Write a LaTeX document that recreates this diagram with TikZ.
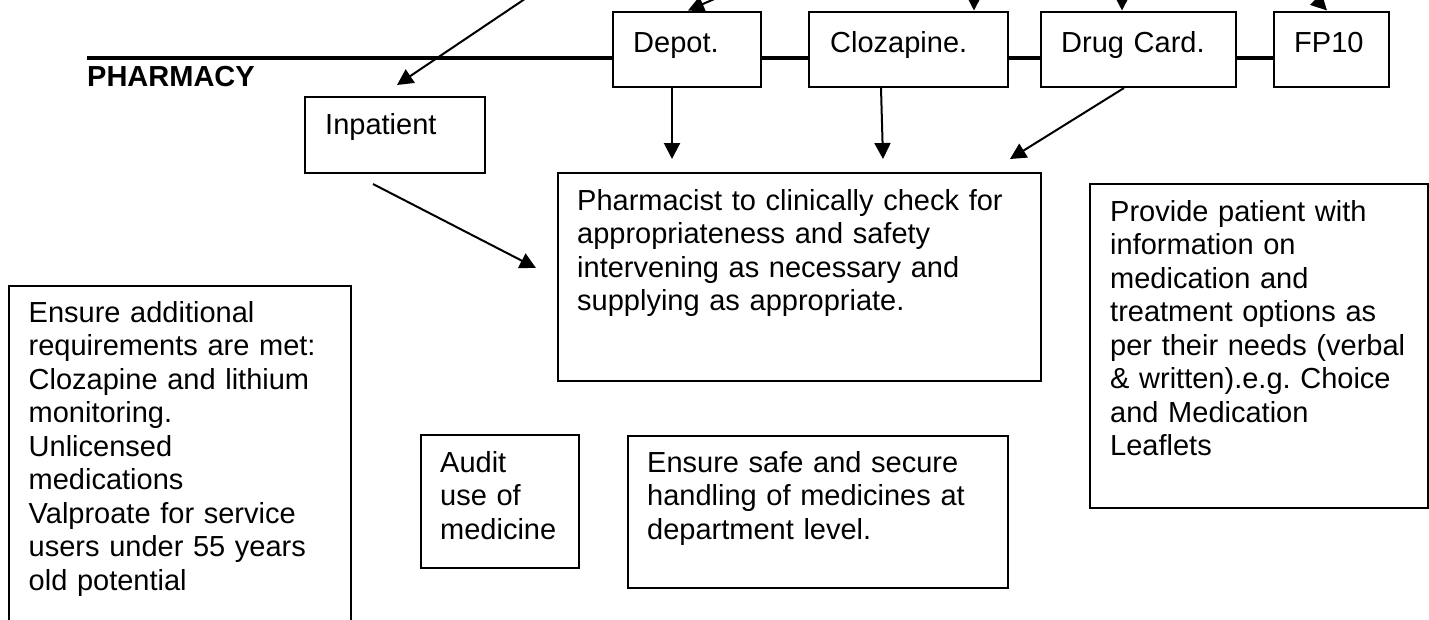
\documentclass[tikz,border=0pt]{standalone}
\usepackage{fontspec}
\setmainfont{Liberation Sans}
\usetikzlibrary{arrows.meta,calc}

\begin{document}
\frenchspacing
\begin{tikzpicture}[x=1pt,y=-1pt,
  box/.style={draw,line width=2pt,inner sep=0pt,anchor=north west},
  txt/.style={inner sep=0pt,anchor=base west,text width=520pt,align=left,
              font=\fontsize{29}{33.5}\selectfont},
  head/.style={inner sep=0pt,anchor=base west,font=\fontsize{29}{33.5}\selectfont\bfseries},
  arr/.style={line width=2pt,-{Triangle[length=16pt,width=16pt]}},
  rule/.style={line width=3.5pt}]

\useasboundingbox (0,0) rectangle (1429,619);
\clip (0,0) rectangle (1429,619);

% department boxes along the pharmacy line
\node[box,minimum width=148,minimum height=75.5] (depot) at (612,10.5) {};
\node[box,minimum width=199,minimum height=75.5] (cloz)  at (808,10.5) {};
\node[box,minimum width=195,minimum height=75.5] (card)  at (1040,10.5) {};
\node[box,minimum width=115,minimum height=75.5] (fp10)  at (1273,10.5) {};

\node[txt] at (633,52)  {Depot.};
\node[txt] at (830,52)  {Clozapine.};
\node[txt] at (1061,52) {Drug Card.};
\node[txt] at (1294,52) {FP10};

% pharmacy line
\coordinate (lineL) at (87,58);
\draw[rule] (lineL) -- (lineL -| depot.west);
\draw[rule] (depot.east |- lineL) -- (cloz.west |- lineL);
\draw[rule] (cloz.east |- lineL) -- (card.west |- lineL);
\draw[rule] (card.east |- lineL) -- (fp10.west |- lineL);
\node[head] (pharmacy) at (87,86.7) {PHARMACY};

% other boxes
\node[box,minimum width=180.5,minimum height=76] (inpat)   at (303.5,96) {};
\node[box,minimum width=483,minimum height=208] (pharm)    at (557,172) {};
\node[box,minimum width=338,minimum height=324] (provide)  at (1089,183) {};
\node[box,minimum width=342,minimum height=380] (extra)    at (8,285) {};
\node[box,minimum width=158,minimum height=133] (audit)    at (420,434) {};
\node[box,minimum width=380,minimum height=152] (safe)     at (627,435) {};

\node[txt] at (325,134) {Inpatient};
\node[txt] at (577,210) {Pharmacist to clinically check for\\appropriateness and safety\\intervening as necessary and\\supplying as appropriate.};
\node[txt] at (1110,221) {Provide patient with\\information on\\medication and\\treatment options as\\per their needs (verbal\\\& written).e.g. Choice\\and Medication\\Leaflets};
\node[txt] at (28.5,322) {Ensure additional\\requirements are met:\\Clozapine and lithium\\monitoring.\\Unlicensed\\medications\\Valproate for service\\users under 55 years\\old potential};
\node[txt] at (440,472) {Audit\\use of\\medicine};
\node[txt] at (647,472) {Ensure safe and secure\\handling of medicines at\\department level.};

% incoming connectors from above
\coordinate (srcA) at (553,-20);
\coordinate (srcB) at (735,-10);
\coordinate (srcC) at (974,-20);
\coordinate (srcD) at (1122,-20);
\coordinate (srcE) at (1305,-12);

\draw[arr] (srcA) -- ($(inpat.north west)+(93.5,-11)$);
\draw[arr] (srcB) -- ($(depot.north west)+(76,0)$);
\draw[arr] (srcC) -- ($(cloz.north west)+(166,0)$);
\draw[arr] (srcD) -- ($(card.north west)+(82,0)$);
\draw[arr] (srcE) -- ($(fp10.north west)+(54,0)$);

% connectors into the pharmacist check
\draw[arr] ($(depot.south west)+(60,0)$) -- ($(pharm.north west)+(115,-13)$);
\draw[arr] ($(cloz.south west)+(73,0)$)  -- ($(pharm.north west)+(326,-13)$);
\draw[arr] ($(card.south west)+(84,0)$)  -- ($(pharm.north east)+(-32,-13)$);
\draw[arr] ($(inpat.south west)+(69.5,10)$) -- ($(pharm.north west)+(-21,96)$);

\end{tikzpicture}
\end{document}
